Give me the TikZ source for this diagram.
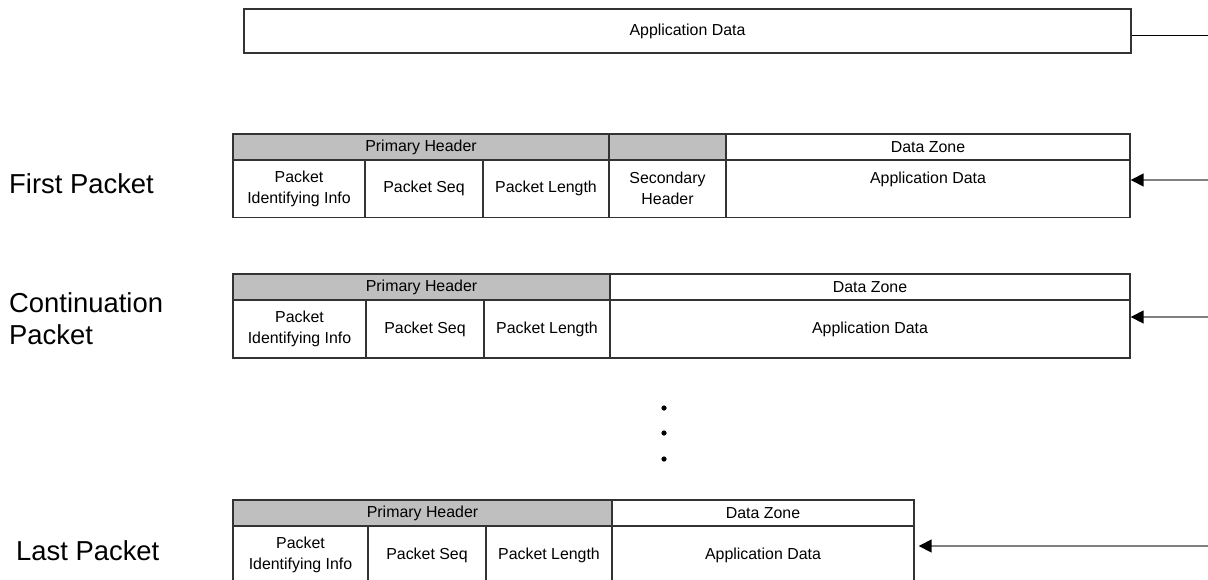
\documentclass[tikz,border=0pt]{standalone}
\usepackage{fontspec}
\setmainfont{Liberation Sans}
\usetikzlibrary{arrows.meta}

\begin{document}
\begin{tikzpicture}[x=1pt, y=-1pt,
        cell/.style={draw=black!80, line width=1.4pt, inner sep=0pt, align=center,
            font=\fontsize{15.9}{21}\selectfont},
        hdr/.style={cell, fill=black!25, minimum height=26pt},
        zone/.style={cell, minimum height=26pt},
        body/.style={cell, minimum height=58pt},
        side/.style={anchor=west, align=left, inner sep=0pt,
            font=\fontsize{27.4}{32}\selectfont},
        feed/.style={draw=gray, line width=1.6pt, -{Triangle[length=13pt, width=13pt, black]}}]
            \useasboundingbox (0,0) rectangle (1208,579);

            %Datos de origen
            \node[cell, minimum width=887pt, minimum height=44pt] (srcapp) at (687.5,31) {Application Data};
            \coordinate (srcout) at (1208,35);
            \draw[black, line width=1pt] (srcout -| srcapp.east) -- (srcout);

            %Paquete primero
            \node[side] (firstlbl) at (9,184) {First Packet};
            \node[hdr, minimum width=376pt] (fph) at (421,147) {Primary Header};
            \node[hdr, minimum width=117pt] (fgap) at (667.5,147) {};
            \node[zone, minimum width=404pt] (fdz) at (928,147) {Data Zone};
            \node[body, minimum width=132pt] (fid) at (299,188.5) {Packet\\Identifying Info};
            \node[body, minimum width=118pt] (fseq) at (424,188.5) {Packet Seq};
            \node[body, minimum width=126pt] (flen) at (546,188.5) {Packet Length};
            \node[body, minimum width=117pt] (fsec) at (667.5,188.5) {Secondary\\Header};
            \node[body, minimum width=404pt, text depth=21pt] (fapp) at (928,188.5) {Application Data};
            \coordinate (fin) at (1208,180);
            \draw[feed] (fin) -- (fin -| fapp.east);

            %Paquete continuacion
            \node[side] (contlbl) at (9,319) {Continuation\\Packet};
            \node[hdr, minimum width=377pt] (cph) at (421.5,287) {Primary Header};
            \node[zone, minimum width=520pt] (cdz) at (870,287) {Data Zone};
            \node[body, minimum width=133pt] (cid) at (299.5,329) {Packet\\Identifying Info};
            \node[body, minimum width=118pt] (cseq) at (425,329) {Packet Seq};
            \node[body, minimum width=126pt] (clen) at (547,329) {Packet Length};
            \node[body, minimum width=520pt] (capp) at (870,329) {Application Data};
            \coordinate (cin) at (1208,317);
            \draw[feed] (cin) -- (cin -| capp.east);

            %Puntos
            \foreach \y in {408,433,459}
                \fill (664,\y) circle (2.6pt);

            %Paquete ultimo
            \node[side] (lastlbl) at (16,551) {Last Packet};
            \node[hdr, minimum width=379pt] (lph) at (422.5,513) {Primary Header};
            \node[zone, minimum width=302pt] (ldz) at (763,513) {Data Zone};
            \node[body, minimum width=135pt] (lid) at (300.5,555) {Packet\\Identifying Info};
            \node[body, minimum width=118pt] (lseq) at (427,555) {Packet Seq};
            \node[body, minimum width=126pt] (llen) at (549,555) {Packet Length};
            \node[body, minimum width=302pt] (lapp) at (763,555) {Application Data};
            \coordinate (lin) at (1208,546);
            \draw[feed, shorten >=4pt] (lin) -- (lin -| lapp.east);
        \end{tikzpicture}
\end{document}
